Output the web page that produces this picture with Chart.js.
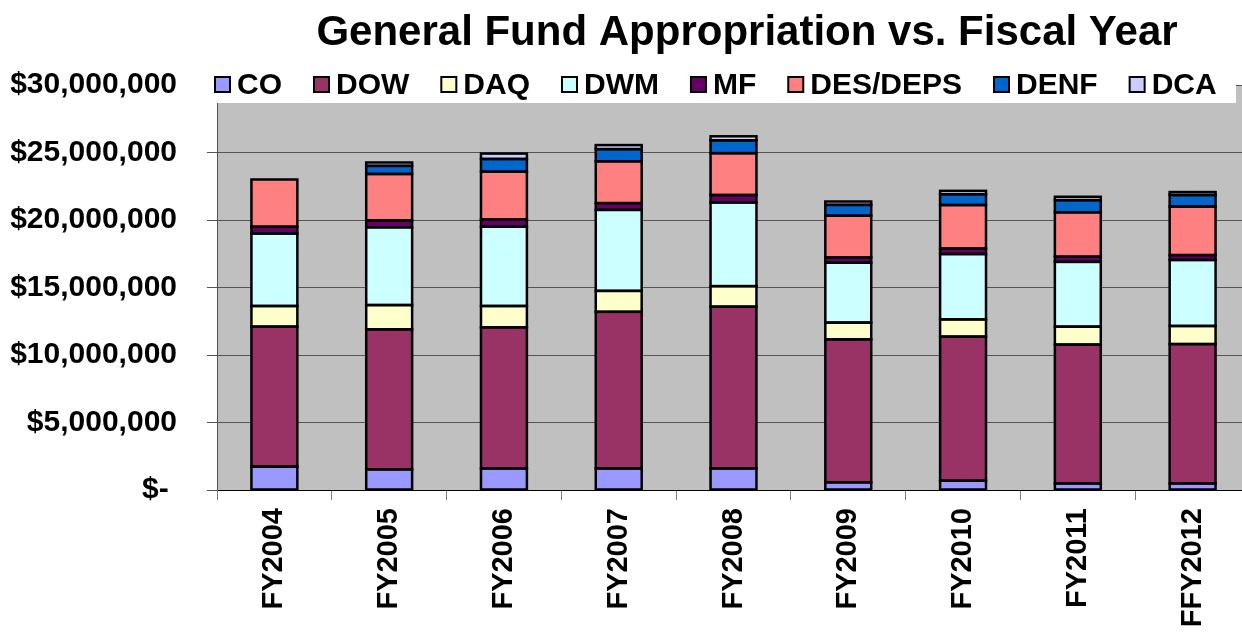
<!DOCTYPE html>
<html>
<head>
<meta charset="utf-8">
<script src="https://cdn.jsdelivr.net/npm/chart.js@4/dist/chart.umd.min.js"></script>
<style>
  html, body { margin: 0; padding: 0; background: #fff; overflow: hidden; }
  #wrap { width: 1252px; height: 633px; }
</style>
</head>
<body>
<div id="wrap"><canvas id="fundChart" width="1252" height="633"></canvas></div>
<script>
// anos fiscais (o ultimo rotulo vem assim do original)
var years = ['FY2004', 'FY2005', 'FY2006', 'FY2007', 'FY2008', 'FY2009', 'FY2010', 'FY2011', 'FFY2012']

// valores, em dolares
var coVals   = [1730000, 1530000, 1600000, 1600000, 1600000, 570000, 690000, 490000, 490000]
var dowVals  = [10370000, 10370000, 10450000, 11600000, 11980000, 10590000, 10670000, 10280000, 10320000]
var daqVals  = [1530000, 1800000, 1580000, 1550000, 1520000, 1240000, 1280000, 1330000, 1340000]
var dwmVals  = [5370000, 5760000, 5870000, 6000000, 6200000, 4440000, 4840000, 4800000, 4890000]
var mfVals   = [500000, 500000, 550000, 500000, 550000, 400000, 400000, 380000, 360000]
var desVals  = [3500000, 3450000, 3530000, 3100000, 3100000, 3080000, 3230000, 3290000, 3600000]
var denfVals = [0, 600000, 940000, 900000, 950000, 800000, 800000, 900000, 850000]
var dcaVals  = [0, 250000, 400000, 300000, 300000, 250000, 250000, 250000, 220000]

var seriesNames = ['CO', 'DOW', 'DAQ', 'DWM', 'MF', 'DES/DEPS', 'DENF', 'DCA']
var seriesColors = ['#9999FF', '#993366', '#FFFFCC', '#CCFFFF', '#660066', '#FF8080', '#0066CC', '#CCCCFF']
var seriesData = [coVals, dowVals, daqVals, dwmVals, mfVals, desVals, denfVals, dcaVals]

var fontFamily = '"Liberation Sans", Arial, sans-serif'
Chart.defaults.font.family = fontFamily
Chart.defaults.color = '#000'

/** fundo cinzento da area do grafico */
var plotBackground = {
  id: 'plotBackground',
  beforeDraw(chart) {
    var a = chart.chartArea
    var ctx = chart.ctx
    ctx.save()
    ctx.fillStyle = '#C0C0C0'
    ctx.fillRect(a.left, a.top, a.right - a.left, a.bottom - a.top)
    ctx.restore()
  }
}

/** contorno preto centrado em cada segmento (como no Excel) */
var barOutline = {
  id: 'barOutline',
  afterDatasetsDraw(chart) {
    var ctx = chart.ctx
    ctx.save()
    ctx.strokeStyle = '#000'
    ctx.lineWidth = 2.5
    chart.data.datasets.forEach((ds, di) => {
      var meta = chart.getDatasetMeta(di)
      meta.data.forEach((el, i) => {
        if (!ds.data[i]) return
        var p = el.getProps(['x', 'y', 'base', 'width'], true)
        ctx.strokeRect(p.x - p.width / 2, Math.min(p.y, p.base), p.width, Math.abs(p.base - p.y))
      })
    })
    ctx.restore()
  }
}

/** titulo e legenda por cima do grafico (a legenda tapa o topo da area) */
var titleAndLegend = {
  id: 'titleAndLegend',
  afterDraw(chart) {
    var ctx = chart.ctx
    ctx.save()
    // titulo
    ctx.fillStyle = '#000'
    ctx.font = 'bold 42px ' + fontFamily
    ctx.textAlign = 'center'
    ctx.textBaseline = 'alphabetic'
    ctx.fillText('General Fund Appropriation vs. Fiscal Year', 747, 45)
    // faixa branca da legenda
    ctx.fillStyle = '#fff'
    ctx.fillRect(207, 62, 1029, 41)
    ctx.font = 'bold 30px ' + fontFamily
    ctx.textAlign = 'left'
    ctx.textBaseline = 'middle'
    var x = 215
    chart.data.datasets.forEach(ds => {
      ctx.fillStyle = ds.backgroundColor
      ctx.fillRect(x, 77, 15, 15)
      ctx.strokeStyle = '#000'
      ctx.lineWidth = 2
      ctx.strokeRect(x, 77, 15, 15)
      ctx.fillStyle = '#000'
      ctx.fillText(ds.label, x + 22, 86)
      x += 22 + ctx.measureText(ds.label).width + 32
    })
    ctx.restore()
  }
}

var datasets = []
for (var i = 0; i < seriesNames.length; i++) {
  datasets.push({
    label: seriesNames[i],
    data: seriesData[i],
    backgroundColor: seriesColors[i],
    borderWidth: 0,
    inflateAmount: 0,
    barPercentage: 0.4,
    categoryPercentage: 1
  })
}

var chart1 = new Chart('fundChart', {
  type: 'bar',
  data: { labels: years, datasets: datasets },
  options: {
    responsive: false,
    animation: false,
    layout: { padding: { top: 85, left: 0, right: 2, bottom: 0 } },
    plugins: {
      legend: { display: false },
      title: { display: false },
      tooltip: { enabled: false }
    },
    scales: {
      x: {
        stacked: true,
        grid: { offset: true, drawOnChartArea: false, tickLength: 10, color: '#808080' },
        border: { color: '#000', width: 1 },
        ticks: {
          maxRotation: 90,
          minRotation: 90,
          padding: 8,
          font: { size: 29, weight: 'bold' }
        },
        // altura fixa do eixo para a area acabar em y=490
        afterFit: function (scale) { scale.height = 143 }
      },
      y: {
        stacked: true,
        min: 0,
        max: 30000000,
        grid: { color: '#555', tickLength: 10 },
        border: { color: '#555', width: 1 },
        ticks: {
          stepSize: 5000000,
          padding: 30,
          font: { size: 30, weight: 'bold' },
          callback: function (value) {
            if (value === 0) return '$- '
            return '$' + value.toLocaleString('en-US')
          }
        },
        afterFit: function (scale) { scale.width = 217 }
      }
    }
  },
  plugins: [plotBackground, barOutline, titleAndLegend]
})
</script>
</body>
</html>
